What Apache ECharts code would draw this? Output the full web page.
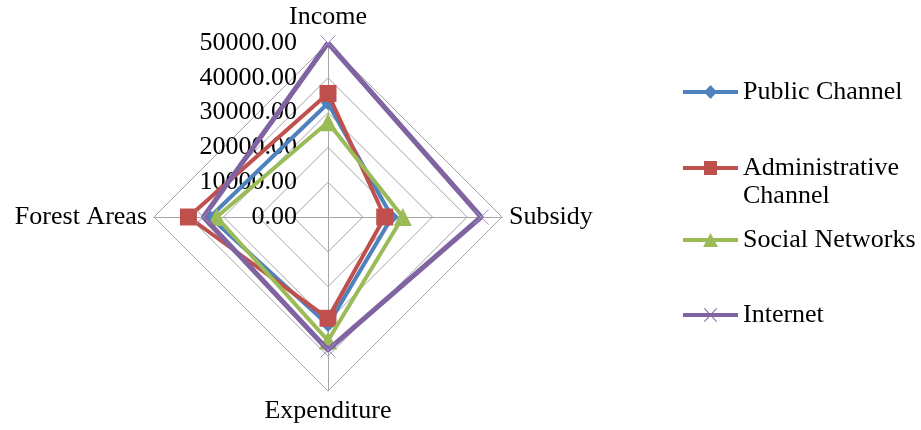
<!DOCTYPE html>
<html>
<head>
<meta charset="utf-8">
<script src="https://cdn.jsdelivr.net/npm/echarts@6/dist/echarts.min.js"></script>
<style>
  html, body { margin: 0; padding: 0; background: #fff; }
  #chart { width: 921px; height: 430px; }
</style>
</head>
<body>
<div id="chart"></div>
<script>
// Radar axes, listed counter-clockwise from the top
const indicators = ['Income', 'Forest Areas', 'Expenditure', 'Subsidy'];
const axisMax = 50000;
const axisInterval = 10000;

// Values per channel, same order as the indicators
const publicChannel = [32700, 33900, 31000, 18400];
const administrativeChannel = [35500, 40100, 29100, 16300];
const socialNetworks = [27200, 32000, 35500, 21500];
const internet = [50000, 35800, 38200, 44000];

const seriesNames = ['Public Channel', 'Administrative Channel', 'Social Networks', 'Internet'];

const FONT = '"Liberation Serif", "Times New Roman", serif';
const textBase = { fontFamily: FONT, fontSize: 26, color: '#000' };

const crossPath = 'path://M0,0 L10,10 M10,0 L0,10';

// Legend keys: a short line with the series marker in its middle (55 x 14 box)
const keyLine = 'M0,5 L55,5 L55,9 L0,9 Z ';
const legendIcons = [
  'path://' + keyLine + 'M27.5,0 L34,7 L27.5,14 L21,7 Z',
  'path://' + keyLine + 'M21,0 L34,0 L34,14 L21,14 Z',
  'path://' + keyLine + 'M27.5,0 L35,14 L20,14 Z',
  'path://' + keyLine + 'M21,0.7 L21.7,0 L34,13.3 L33.3,14 Z M33.3,0 L34,0.7 L21.7,14 L21,13.3 Z'
];

const styles = [
  { color: '#4F81BD', symbol: 'diamond', size: 14, width: 4 },
  { color: '#C0504D', symbol: 'rect', size: 17, width: 4 },
  { color: '#9BBB59', symbol: 'triangle', size: 18, width: 4 },
  { color: '#8064A2', symbol: crossPath, size: 15, width: 5 }
];
const values = [publicChannel, administrativeChannel, socialNetworks, internet];

const chart = echarts.init(document.getElementById('chart'), null, { renderer: 'canvas' });

const legendTops = [78, 126, 226, 301];

const option = {
  animation: false,
  backgroundColor: '#fff',
  legend: seriesNames.map((name, i) => ({
    data: [{ name: name, icon: legendIcons[i] }],
    left: 683,
    top: legendTops[i],
    padding: 0,
    itemWidth: 55,
    itemHeight: 14,
    selectedMode: false,
    itemStyle: { color: styles[i].color, borderWidth: 0 },
    formatter: name === 'Administrative Channel' ? '\nAdministrative\nChannel' : '{name}',
    textStyle: Object.assign({ lineHeight: 28 }, textBase)
  })),
  radar: {
    center: [328, 217],
    radius: 174,
    startAngle: 90,
    shape: 'polygon',
    splitNumber: axisMax / axisInterval,
    axisName: Object.assign({}, textBase),
    nameGap: 7,
    axisLine: { lineStyle: { color: '#A6A6A6', width: 1 } },
    splitLine: { lineStyle: { color: '#A6A6A6', width: 1 } },
    splitArea: { show: false },
    axisTick: { show: false },
    axisLabel: { show: false },
    indicator: indicators.map((name, i) => {
      const ind = { name: name, min: 0, max: axisMax };
      if (i === 0) {
        ind.axisLabel = {
          show: true,
          fontFamily: FONT,
          fontSize: 26,
          color: '#000',
          margin: 31,
          formatter: v => v.toFixed(2)
        };
      }
      return ind;
    })
  },
  series: seriesNames.map((name, i) => ({
    type: 'radar',
    name: name,
    z: 2 + i,
    symbol: styles[i].symbol,
    symbolSize: styles[i].size,
    lineStyle: { color: styles[i].color, width: styles[i].width },
    itemStyle: i === 3
      ? { color: '#9F8FC8', borderColor: '#9F8FC8', borderWidth: 1 }
      : { color: styles[i].color },
    data: [{ value: values[i], name: name }]
  }))
};

chart.setOption(option);
</script>
</body>
</html>
